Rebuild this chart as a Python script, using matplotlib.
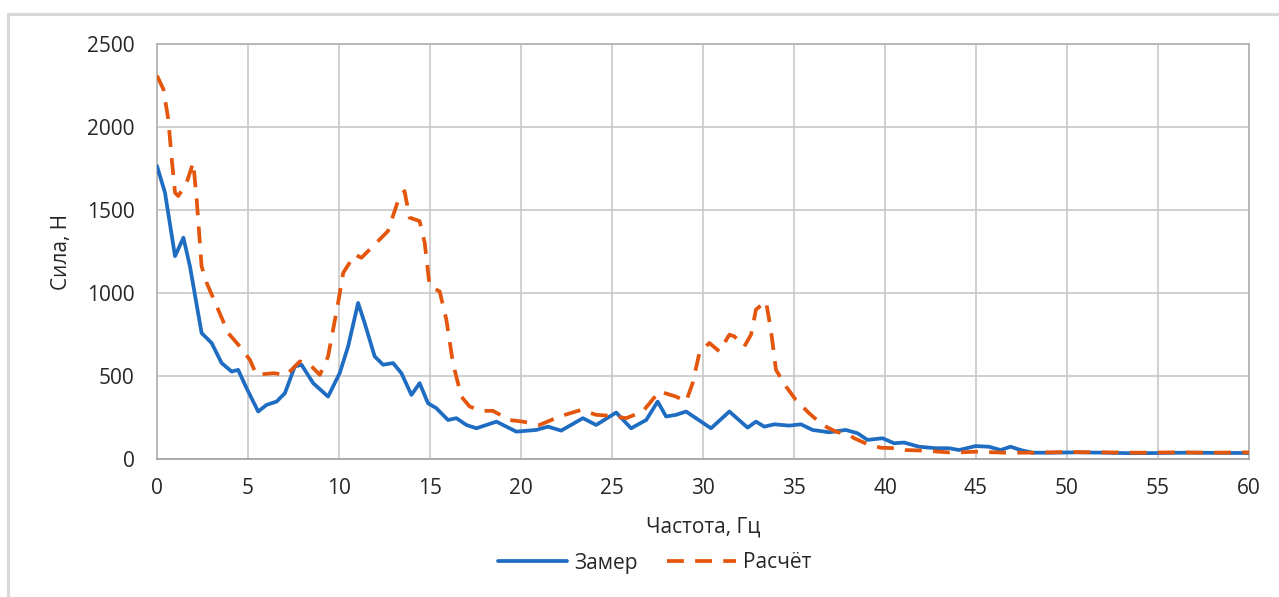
import matplotlib
matplotlib.use("Agg")
import matplotlib.pyplot as plt
from matplotlib.lines import Line2D

# ---- data ----
freq_meas = [0, 0.44, 0.99, 1.45, 1.81, 2.45, 3.0, 3.55, 4.1, 4.46, 4.92, 5.56, 6.02, 6.57,
             7.03, 7.57, 7.94, 8.58, 9.40, 10.04, 10.5, 11.05, 11.41, 11.96, 12.42, 12.97,
             13.43, 13.98, 14.43, 14.89, 15.35, 15.99, 16.45, 17.0, 17.55, 18.1, 18.65,
             19.74, 20.84, 21.48, 22.21, 23.4, 24.13, 25.23, 26.05, 26.88, 27.51, 27.97,
             28.52, 29.07, 30.44, 31.45, 32.45, 32.91, 33.37, 33.92, 34.74, 35.38, 36.02,
             36.93, 37.85, 38.49, 39.04, 39.86, 40.5, 41.05, 41.87, 42.79, 43.52, 44.07,
             44.98, 45.71, 46.35, 46.9, 47.45, 48.1, 49.19, 50.5, 52, 53.5, 55, 56.5, 58, 60]
force_meas = [1765, 1604, 1222, 1333, 1161, 759, 699, 578, 527, 537, 427, 286, 326, 346,
              397, 557, 568, 457, 376, 518, 678, 940, 819, 618, 568, 578,
              517, 386, 457, 336, 306, 235, 246, 205, 185, 205, 225,
              165, 175, 195, 171, 246, 205, 280, 185, 235, 346, 256,
              266, 286, 185, 286, 189, 225, 195, 209, 201, 209, 175,
              161, 175, 155, 115, 125, 95, 99, 74, 65, 65, 54,
              78, 74, 54, 74, 54, 38, 38, 40, 38, 35, 36, 38, 37, 36]

freq_calc = [0, 0.35, 0.62, 0.81, 0.99, 1.17, 1.63, 1.99, 2.18, 2.45, 2.73, 3.36, 3.91,
             4.55, 5.1, 5.47, 6.39, 7.12, 7.85, 8.4, 8.95, 9.4, 9.95, 10.23, 10.87, 11.23,
             11.87, 12.69, 13.24, 13.6, 13.88, 14.43, 14.71, 14.98, 15.53, 15.9, 16.26,
             16.72, 17.18, 17.82, 18.46, 19.37, 20.1, 21.02, 22.12, 23.31, 24.13, 24.96,
             25.78, 26.69, 27.6, 28.52, 29.07, 29.43, 29.8, 30.35, 30.9, 31.45, 31.72,
             32.27, 32.64, 32.91, 33.46, 33.73, 34.01, 34.56, 35.1, 35.83, 36.57, 37.3,
             38.03, 38.31, 39.13, 39.77, 40.59, 41.14, 42.24, 43.7, 44.98, 46.63, 48.1,
             50, 52, 54, 56, 58, 60]
force_calc = [2309, 2228, 2047, 1806, 1604, 1584, 1665, 1786, 1564, 1161, 1061, 900, 759,
              678, 598, 507, 517, 507, 588, 568, 507, 618, 940, 1121, 1232, 1212,
              1282, 1373, 1554, 1614, 1454, 1433, 1302, 1041, 1010, 839, 578,
              376, 316, 290, 290, 235, 225, 205, 256, 296, 266, 260,
              246, 286, 407, 376, 346, 457, 638, 699, 648, 749, 739,
              678, 749, 900, 950, 779, 537, 437, 356, 276, 205, 165,
              145, 125, 85, 68, 65, 54, 50, 38, 44, 38, 38,
              42, 40, 38, 40, 38, 40]

x_ticks = [0, 5, 10, 15, 20, 25, 30, 35, 40, 45, 50, 55, 60]
y_ticks = [0, 500, 1000, 1500, 2000, 2500]
series_names = ["Замер", "Расчёт"]
x_label = "Частота, Гц"
y_label = "Сила, Н"

# ---- style ----
plt.rcParams['font.family'] = ['Open Sans', 'DejaVu Sans']
FS = 15
BLUE = '#1f6dc2'
ORANGE = '#e4560c'
TXT = '#262626'

W, H = 1279, 597
fig = plt.figure(figsize=(W / 100, H / 100), dpi=100)
ax = fig.add_axes([157 / W, 1 - 459 / H, (1249 - 157) / W, (459 - 44) / H])

# outer frame (top and left edges visible)
fig.add_artist(Line2D([8 / W, 1.0], [1 - 14 / H, 1 - 14 / H], transform=fig.transFigure,
                      color='#d9d9d9', lw=2.2))
fig.add_artist(Line2D([8 / W, 8 / W], [0, 1 - 14 / H], transform=fig.transFigure,
                      color='#d9d9d9', lw=2.2))

ax.plot(freq_meas, force_meas, color=BLUE, lw=2.7, solid_joinstyle='round',
        solid_capstyle='round', label=series_names[0], zorder=3)
l2, = ax.plot(freq_calc, force_calc, color=ORANGE, lw=2.7, linestyle='--',
              dash_joinstyle='round', label=series_names[1], zorder=4)
l2.set_dashes([4.5, 3])

ax.set_xlim(0, 60)
ax.set_ylim(0, 2500)
ax.set_xticks(x_ticks)
ax.set_yticks(y_ticks)
ax.grid(True, color='#c8c8c8', lw=1.2)
ax.set_axisbelow(True)
for s in ax.spines.values():
    s.set_color('#b0b0b0')
    s.set_linewidth(1.2)
ax.spines['bottom'].set_color('#a0a0a0')
ax.tick_params(length=0, labelsize=FS, labelcolor=TXT)
ax.tick_params(axis='x', pad=14)
ax.tick_params(axis='y', pad=16)

ax.set_xlabel(x_label, fontsize=FS, color=TXT)
ax.xaxis.label.set_va('baseline')
ax.xaxis.set_label_coords(0.5, -(533 - 459) / 415)
ax.set_ylabel(y_label, fontsize=FS, color=TXT)
ax.yaxis.label.set_va('center')
ax.yaxis.set_label_coords((62 - 157) / 1092, 0.5)

leg = fig.legend(loc='center', bbox_to_anchor=(655 / W, 1 - 563 / H), ncol=2,
                 frameon=False, fontsize=FS, handlelength=3.3, handletextpad=0.35,
                 columnspacing=1.4)
for t in leg.get_texts():
    t.set_color(TXT)

fig.savefig('out.png', dpi=100, facecolor='white')
